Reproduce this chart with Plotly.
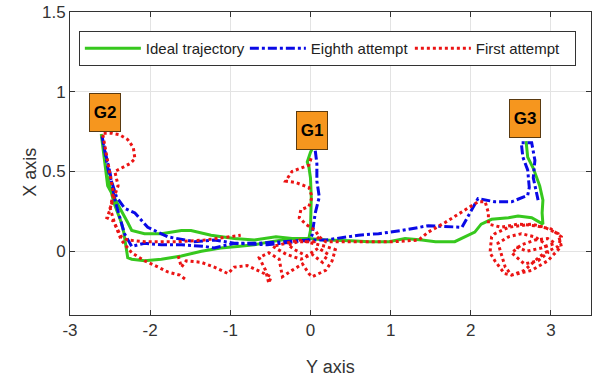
import plotly.graph_objects as go

# ---------------- data ----------------
ideal_x = [0.02, 0.0, -0.04, -0.02, 0.0, 0.01, 0.0, -0.02, -0.23, -0.43, -0.70, -0.95, -1.24, -1.49, -1.61,
           -1.86, -2.07, -2.23, -2.28, -2.40, -2.53, -2.61, -2.55, -2.45, -2.36, -2.33, -2.28, -2.23, -2.07,
           -1.86, -1.61, -1.36, -1.12, -0.91, -0.70, -0.49, -0.23, -0.02, 0.19, 0.50, 0.73, 0.98, 1.18, 1.39,
           1.56, 1.80, 1.93, 2.05, 2.13, 2.26, 2.47, 2.59, 2.76, 2.88, 2.90, 2.89, 2.90, 2.86, 2.78, 2.71, 2.69]
ideal_y = [0.64, 0.62, 0.56, 0.53, 0.46, 0.34, 0.13, 0.08, 0.08, 0.09, 0.07, 0.08, 0.10, 0.13, 0.13,
           0.11, 0.11, 0.13, 0.18, 0.29, 0.41, 0.735, 0.50, 0.30, 0.18, 0.12, -0.04, -0.05, -0.06,
           -0.05, -0.03, 0.00, 0.02, 0.03, 0.04, 0.06, 0.08, 0.08, 0.07, 0.065, 0.06, 0.06, 0.08, 0.07,
           0.06, 0.06, 0.09, 0.12, 0.17, 0.20, 0.21, 0.22, 0.21, 0.18, 0.17, 0.24, 0.32, 0.41, 0.52, 0.59, 0.69]

eighth_x = [0.06, 0.08, 0.08, 0.11, 0.06, 0.02, -0.02, -0.31, -0.64, -0.95, -1.20, -1.32, -1.61, -1.86,
            -2.07, -2.23, -2.32, -2.44, -2.50, -2.56, -2.60, -2.52, -2.42, -2.32, -2.19, -2.03, -1.78,
            -1.45, -1.20, -0.95, -0.54, -0.02, 0.19, 0.60, 0.85, 1.14, 1.47, 1.89, 2.09, 2.30, 2.51,
            2.71, 2.73, 2.71, 2.65, 2.63, 2.76, 2.80, 2.78, 2.84]
eighth_y = [0.63, 0.55, 0.44, 0.34, 0.24, 0.10, 0.07, 0.06, 0.05, 0.05, 0.02, 0.03, 0.04, 0.04,
            0.05, 0.03, 0.11, 0.32, 0.49, 0.62, 0.72, 0.50, 0.34, 0.27, 0.24, 0.15, 0.09,
            0.06, 0.07, 0.05, 0.04, 0.07, 0.07, 0.10, 0.11, 0.13, 0.16, 0.15, 0.33, 0.31, 0.31,
            0.35, 0.40, 0.51, 0.59, 0.68, 0.68, 0.57, 0.46, 0.32]

first_x = [
    # around G2 and left descent
    -2.58, -2.48, -2.38, -2.28, -2.21, -2.19, -2.25, -2.36, -2.44, -2.40, -2.44, -2.50, -2.44, -2.36,
    -2.23, -2.07, -1.90, -1.78, -1.63, -1.55, None,
    -2.59, -2.55, -2.50, -2.46, -2.50, -2.54, -2.46, -2.36, -2.28, -2.07, -1.86, -1.65, -1.32, -1.03,
    -0.87, None,
    # lower middle and cluster under G1
    -1.65, -1.61, -1.55, -1.36, -1.20, -1.12, -1.03, -0.95, -0.79, -0.62, -0.49, -0.52, -0.56, -0.64,
    -0.52, -0.39, -0.35, -0.23, -0.10, -0.02, 0.02, 0.19, 0.27, 0.31, 0.19, -0.14, -0.31, -0.47, -0.30,
    -0.12, 0.02, 0.15, 0.22, 0.10, -0.05, -0.20, -0.28, -0.15, 0.05, 0.11, 0.06, -0.06, -0.14, -0.12,
    -0.02, 0.02, -0.02, -0.18, -0.31, -0.23, -0.02, 0.02, None,
    # towards G3 and cluster
    0.11, 0.19, 0.50, 0.85, 1.06, 1.35, 1.47, 1.68, 1.93, 2.09, 2.18, 2.22, 2.22, 2.38, 2.59, 2.80,
    3.00, 3.13, 3.09, 2.92, 2.80, 2.67, 2.51, 2.42, 2.30, 2.24, 2.26, 2.30, 2.47, 2.76, 2.92, 3.09,
    3.13, 2.96, 2.76, 2.51, 2.43, 2.34, 2.47, 2.63, 2.80, 2.92, 2.96, 2.84, 2.67, 2.51, 2.63, 2.80,
    2.96, 3.05, 2.88, 2.70, 2.55]
first_y = [
    0.74, 0.74, 0.73, 0.70, 0.65, 0.58, 0.55, 0.52, 0.50, 0.41, 0.35, 0.27, 0.17, 0.07,
    -0.01, -0.06, -0.10, -0.13, -0.15, -0.18, None,
    0.73, 0.62, 0.48, 0.37, 0.26, 0.21, 0.19, 0.09, 0.07, 0.06, 0.06, 0.06, 0.07, 0.09,
    0.10, None,
    -0.03, -0.10, -0.06, -0.07, -0.10, -0.12, -0.14, -0.10, -0.09, -0.13, -0.16, -0.20, -0.12, -0.04,
    -0.01, -0.05, -0.16, -0.12, -0.08, -0.14, -0.16, -0.12, -0.06, 0.01, 0.03, 0.07, 0.05, 0.03, -0.02,
    -0.05, -0.02, -0.07, -0.02, 0.02, -0.03, 0.01, 0.04, 0.06, 0.06, 0.09, 0.13, 0.17, 0.21, 0.26,
    0.28, 0.34, 0.40, 0.43, 0.44, 0.50, 0.54, 0.60, None,
    0.09, 0.06, 0.06, 0.06, 0.06, 0.07, 0.12, 0.18, 0.26, 0.31, 0.31, 0.24, 0.17, 0.15, 0.17, 0.16,
    0.14, 0.09, 0.03, -0.01, -0.06, -0.12, -0.15, -0.14, -0.06, -0.01, 0.09, 0.11, 0.15, 0.17, 0.15, 0.11,
    0.03, -0.06, -0.12, -0.15, -0.10, 0.05, 0.09, 0.11, 0.09, 0.05, -0.01, -0.06, -0.08, -0.01, 0.04, 0.07,
    0.08, 0.05, 0.02, 0.00, 0.03]

goal_labels = ["G1", "G2", "G3"]
goal_x = [0.02, -2.56, 2.68]
goal_y = [0.76, 0.87, 0.83]

x_ticks = [-3, -2, -1, 0, 1, 2, 3]
y_ticks = [0, 0.5, 1, 1.5]
y_ticktext = ["0", "0.5", "1", "1.5"]

# ---------------- figure ----------------
FONT = "Liberation Sans, Arial"
TXT = "#333333"

fig = go.Figure()
fig.add_trace(go.Scatter(x=ideal_x, y=ideal_y, mode="lines", name="Ideal trajectory",
                         line=dict(color="rgb(55,200,30)", width=3)))
fig.add_trace(go.Scatter(x=eighth_x, y=eighth_y, mode="lines", name="Eighth attempt",
                         line=dict(color="rgb(10,10,230)", width=3, dash="dashdot")))
fig.add_trace(go.Scatter(x=first_x, y=first_y, mode="lines", name="First attempt",
                         connectgaps=False,
                         line=dict(color="rgb(235,20,20)", width=3, dash="dot")))

for lab, gx, gy in zip(goal_labels, goal_x, goal_y):
    fig.add_annotation(x=gx, y=gy, text="<b>%s</b>" % lab, showarrow=False,
                       font=dict(family=FONT, size=17, color="black"),
                       bgcolor="#F6961E", bordercolor="#5a3a10", borderwidth=1,
                       width=30, height=37, borderpad=0)

# axis titles (placed as paper annotations)
fig.add_annotation(x=0.5, y=-0.172, xref="paper", yref="paper", text="Y axis", showarrow=False,
                   xanchor="center", yanchor="middle", font=dict(family=FONT, size=18, color=TXT))
fig.add_annotation(x=-0.077, y=0.472, xref="paper", yref="paper", text="X axis", showarrow=False,
                   textangle=-90, xanchor="center", yanchor="middle",
                   font=dict(family=FONT, size=18, color=TXT))

axis_common = dict(showgrid=True, gridcolor="#e3e3e3", gridwidth=1, zeroline=False,
                   showline=True, linecolor="#333333", linewidth=1, mirror="allticks",
                   ticks="inside", ticklen=5, tickcolor="#333333", automargin=False,
                   tickfont=dict(family=FONT, size=17, color=TXT))

fig.update_xaxes(range=[-3, 3.5], tickvals=x_ticks, ticktext=[str(v) for v in x_ticks], **axis_common)
fig.update_yaxes(range=[-0.4, 1.5], tickvals=y_ticks, ticktext=y_ticktext, **axis_common)

fig.update_layout(
    width=594, height=381,
    margin=dict(l=70, r=3, t=12, b=66),
    paper_bgcolor="white", plot_bgcolor="white",
    showlegend=True,
    legend=dict(orientation="h", x=0.017, y=0.937, xanchor="left", yanchor="top",
                bgcolor="white", bordercolor="#333333", borderwidth=1,
                font=dict(family=FONT, size=15, color="#222222"),
                itemwidth=56, entrywidth=94, entrywidthmode="pixels", tracegroupgap=0),
)

fig.write_html("out.html", config={"displayModeBar": False},
               post_script="document.body.style.margin='0px';")
